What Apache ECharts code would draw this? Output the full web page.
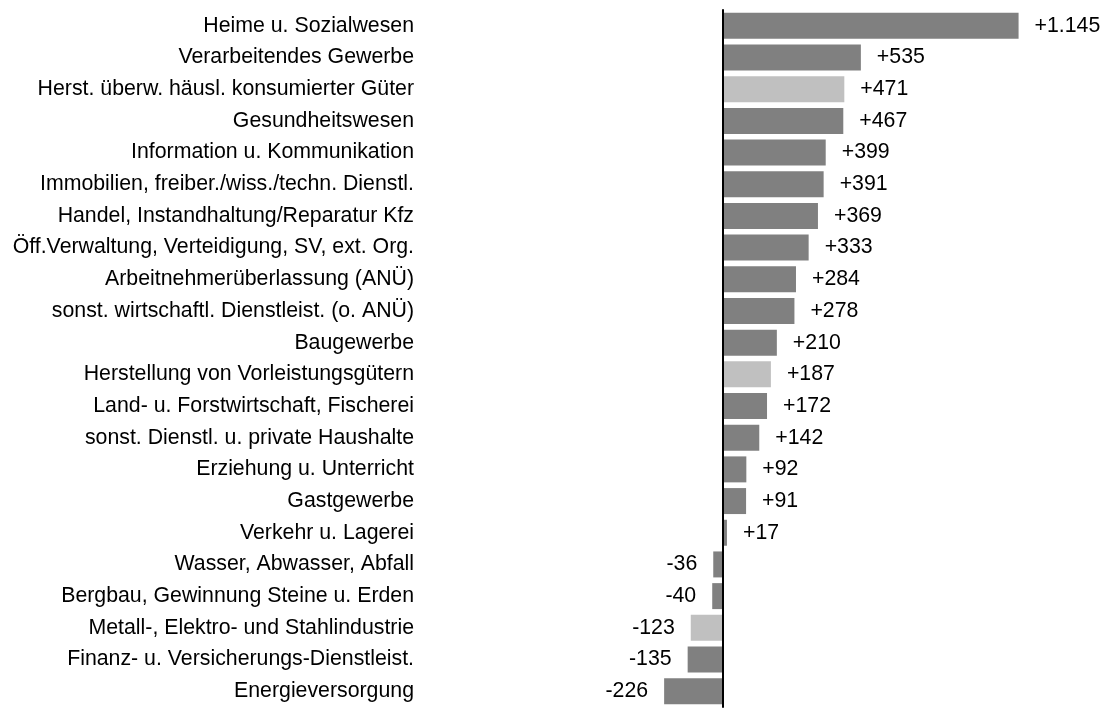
<!DOCTYPE html>
<html>
<head>
<meta charset="utf-8">
<script src="https://cdn.jsdelivr.net/npm/echarts@6/dist/echarts.min.js"></script>
<style>
    html, body { margin: 0; padding: 0; background: #fff; }
    #chart { width: 1103px; height: 708px; }
</style>
</head>
<body>
<div id="chart"></div>
<script>
let categories = [
    'Heime u. Sozialwesen',
    'Verarbeitendes Gewerbe',
    'Herst. überw. häusl. konsumierter Güter',
    'Gesundheitswesen',
    'Information u. Kommunikation',
    'Immobilien, freiber./wiss./techn. Dienstl.',
    'Handel, Instandhaltung/Reparatur Kfz',
    'Öff.Verwaltung, Verteidigung, SV, ext. Org.',
    'Arbeitnehmerüberlassung (ANÜ)',
    'sonst. wirtschaftl. Dienstleist. (o. ANÜ)',
    'Baugewerbe',
    'Herstellung von Vorleistungsgütern',
    'Land- u. Forstwirtschaft, Fischerei',
    'sonst. Dienstl. u. private Haushalte',
    'Erziehung u. Unterricht',
    'Gastgewerbe',
    'Verkehr u. Lagerei',
    'Wasser, Abwasser, Abfall',
    'Bergbau, Gewinnung Steine u. Erden',
    'Metall-, Elektro- und Stahlindustrie',
    'Finanz- u. Versicherungs-Dienstleist.',
    'Energieversorgung'
]
let values = [1145, 535, 471, 467, 399, 391, 369, 333, 284, 278, 210, 187, 172, 142, 92, 91, 17, -36, -40, -123, -135, -226]
// sub-sectors drawn in light grey
let highlighted = [
    'Herst. überw. häusl. konsumierter Güter',
    'Herstellung von Vorleistungsgütern',
    'Metall-, Elektro- und Stahlindustrie'
]

let font = '"Liberation Sans", Arial, sans-serif'

function fmt(v) {
    let s = String(Math.abs(v)).replace(/\B(?=(\d{3})+(?!\d))/g, '.')
    return (v > 0 ? '+' : '-') + s
}

let data = []
for (let i in values) {
    let v = values[i]
    data.push({
        value: v,
        itemStyle: { color: highlighted.indexOf(categories[i]) >= 0 ? '#c0c0c0' : '#808080' },
        label: { position: v >= 0 ? 'right' : 'left' }
    })
}

let chart = echarts.init(document.querySelector('#chart'))
chart.setOption({
    animation: false,
    backgroundColor: '#ffffff',
    grid: { left: 645, top: 10, width: 439.5, height: 697, containLabel: false, outerBoundsMode: 'none' },
    xAxis: {
        type: 'value',
        min: -300,
        max: 1400,
        show: false
    },
    yAxis: {
        type: 'category',
        data: categories,
        inverse: true,
        axisLine: { onZero: true, lineStyle: { color: '#000', width: 2 } },
        axisTick: { show: false },
        axisLabel: {
            margin: 231,
            color: '#000',
            fontSize: 21.3,
            fontFamily: font
        },
        z: 10
    },
    series: [
        {
            type: 'bar',
            data: data,
            barCategoryGap: '18%',
            label: {
                show: true,
                distance: 16,
                color: '#000',
                fontSize: 21.3,
                fontFamily: font,
                formatter: function (p) { return fmt(p.value) }
            }
        }
    ]
})
</script>
</body>
</html>
